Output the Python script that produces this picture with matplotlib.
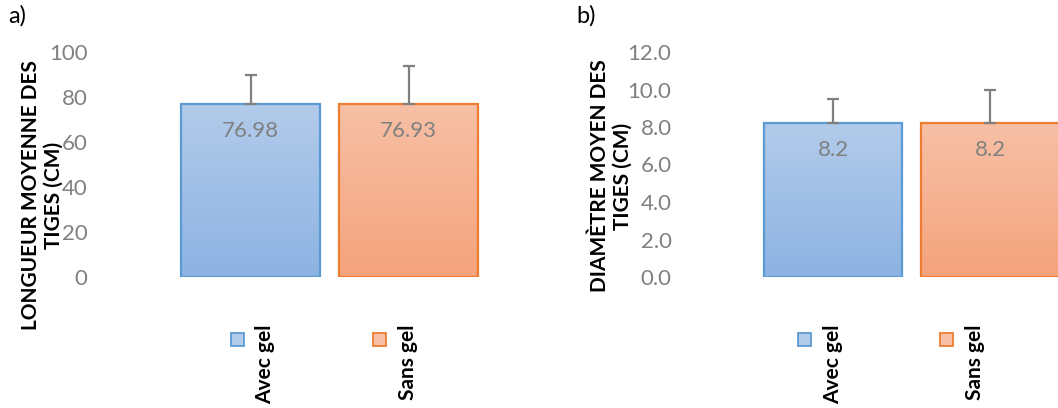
import numpy as np
import matplotlib
matplotlib.use('Agg')
import matplotlib.pyplot as plt
from matplotlib.patches import Rectangle

plt.rcParams['font.family'] = ['Lato', 'DejaVu Sans']

# données
groupes = ['Avec gel', 'Sans gel']
longueur = [76.98, 76.93]
longueur_err = [12.8, 16.9]
diametre = [8.2, 8.2]
diametre_err = [1.3, 1.8]
lab_longueur = ['76.98', '76.93']
lab_diametre = ['8.2', '8.2']

W, H = 1058, 408
fig = plt.figure(figsize=(W / 100, H / 100), dpi=100)

fills = [('#B2CBEA', '#8DB3E2'), ('#F7C0A6', '#F4A37C')]
edges = ['#5B9BD5', '#ED7D31']
gris = '#808080'


def px(x0, x1):
    return x0 / W, (408 - 277) / H, (x1 - x0) / W, 225 / H


def panneau(rect, xlim, vals, errs, labs, ymax, yticks, yfmt):
    ax = fig.add_axes(rect)
    ax.set_xlim(*xlim)
    ax.set_ylim(0, ymax)
    for s in ax.spines.values():
        s.set_visible(False)
    ax.set_xticks([])
    ax.set_yticks(yticks)
    ax.set_yticklabels([yfmt.format(v) for v in yticks])
    ax.tick_params(axis='y', length=0, pad=9, labelsize=16, labelcolor=gris)
    bars = ax.bar(range(len(vals)), vals, width=0.88, color='none',
                  edgecolor=edges, linewidth=1.6, zorder=3)
    for i, b in enumerate(bars):
        top, bot = fills[i]
        c1 = np.array(matplotlib.colors.to_rgb(top))
        c2 = np.array(matplotlib.colors.to_rgb(bot))
        t = np.linspace(0, 1, 100)[:, None]
        grad = (c1 * (1 - t) + c2 * t)[:, None, :]
        im = ax.imshow(grad, extent=[b.get_x(), b.get_x() + b.get_width(), 0, b.get_height()],
                       aspect='auto', origin='upper', zorder=2)
        im.set_clip_path(b)
        ax.errorbar(i, vals[i], yerr=[[0], [errs[i]]], fmt='none', ecolor=gris,
                    elinewidth=1.6, capsize=4.5, capthick=1.6, zorder=4)
        ax.annotate(labs[i], (i, vals[i]), xytext=(0, -19.5), textcoords='offset points',
                    ha='center', va='center', fontsize=16, color=gris, zorder=5)
    return ax


panneau(px(100, 520), ((100 - 250.5) / 158, (520 - 250.5) / 158),
        longueur, longueur_err, lab_longueur, 100, [0, 20, 40, 60, 80, 100], '{:.0f}')
panneau(px(684, 1058), ((684 - 833) / 157, (1058 - 833) / 157),
        diametre, diametre_err, lab_diametre, 12, [0, 2, 4, 6, 8, 10, 12], '{:.1f}')

fig.text(42 / W, 1 - 195 / H, 'LONGUEUR MOYENNE DES\nTIGES (CM)', rotation=90,
         ha='center', va='center', fontsize=15, fontweight='bold', linespacing=1.15)
fig.text(611 / W, 1 - 176 / H, 'DIAMÈTRE MOYEN DES\nTIGES (CM)', rotation=90,
         ha='center', va='center', fontsize=15, fontweight='bold', linespacing=1.15)

fig.text(8 / W, 1 - 5 / H, 'a)', ha='left', va='top', fontsize=17)
fig.text(576 / W, 1 - 5 / H, 'b)', ha='left', va='top', fontsize=17)

# légendes
legende = [(237, 265, 379, 408), (804, 833, 946, 975)]
for pos in legende:
    for k in range(2):
        mx, tx = pos[2 * k], pos[2 * k + 1]
        fig.patches.append(Rectangle(((mx - 6.5) / W, 1 - (339 + 6.5) / H), 13 / W, 13 / H,
                                     transform=fig.transFigure, facecolor=fills[k][0],
                                     edgecolor=edges[k], linewidth=1.3))
        fig.text(tx / W, 1 - 324 / H, groupes[k], rotation=90, ha='center', va='top',
                 fontsize=15, fontweight='bold')

fig.savefig('out.png', dpi=100)
